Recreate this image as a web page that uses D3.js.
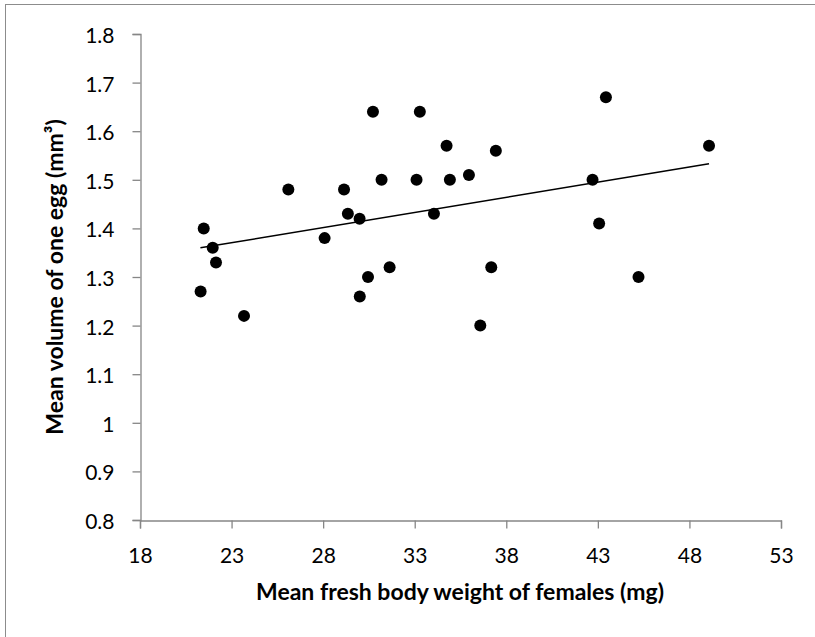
<!DOCTYPE html>
<html>
<head>
<meta charset="utf-8">
<script src="https://cdn.jsdelivr.net/npm/d3@7"></script>
<style>
  html, body { margin: 0; padding: 0; background: #fff; }
  svg { display: block; }
</style>
</head>
<body>
<svg id="chart" width="815" height="637"></svg>
<script>
// Mean fresh body weight of females (mg)
const bodyWeight = [21.31, 21.48, 21.97, 22.15, 23.68, 26.1, 28.08, 29.14, 29.35, 29.99,
  30.0, 30.45, 30.72, 31.19, 31.63, 33.1, 33.28, 34.05, 34.74, 34.92,
  35.96, 36.58, 37.18, 37.43, 42.71, 43.07, 43.44, 45.22, 49.07];
// Mean volume of one egg (mm³)
const eggVolume = [1.27, 1.40, 1.36, 1.33, 1.22, 1.48, 1.38, 1.48, 1.43, 1.42,
  1.26, 1.30, 1.64, 1.50, 1.32, 1.50, 1.64, 1.43, 1.57, 1.50,
  1.51, 1.20, 1.32, 1.56, 1.50, 1.41, 1.67, 1.30, 1.57];
// Tick values
const xTicks = [18, 23, 28, 33, 38, 43, 48, 53];
const yTicks = [0.8, 0.9, 1, 1.1, 1.2, 1.3, 1.4, 1.5, 1.6, 1.7, 1.8];
// Linear trend line: start and end of fitted line
const trendX = [21.3, 49.07];
const trendY = [1.36, 1.533];

(function () {
  const svg = d3.select("#chart");
  const axisColor = "#868686";
  const font = "Lato, 'Open Sans', sans-serif";

  // outer chart frame
  svg.append("rect")
    .attr("x", 5.5).attr("y", 4.5)
    .attr("width", 830).attr("height", 660)
    .attr("fill", "none").attr("stroke", "#8c8c8c").attr("stroke-width", 1);

  const plotLeft = 140, plotRight = 781, plotTop = 34, plotBottom = 520;
  const x = d3.scaleLinear().domain([18, 53]).range([plotLeft, plotRight]);
  const y = d3.scaleLinear().domain([0.8, 1.8]).range([plotBottom, plotTop]);

  // axes
  const xAxis = svg.append("g").attr("transform", `translate(0,${plotBottom + 0.5})`)
    .call(d3.axisBottom(x).tickValues(xTicks).tickSize(8).tickPadding(20).tickFormat(d3.format("d")));
  const yAxis = svg.append("g").attr("transform", `translate(${plotLeft + 0.5},0)`)
    .call(d3.axisLeft(y).tickValues(yTicks).tickSize(8).tickPadding(18).tickFormat(d => String(+d.toFixed(1))));

  [xAxis, yAxis].forEach(g => {
    g.select(".domain").attr("stroke", axisColor).attr("stroke-width", 1.3);
    g.selectAll(".tick line").attr("stroke", axisColor).attr("stroke-width", 1.3);
    g.selectAll(".tick text").attr("fill", "#000").style("font-family", font).style("font-size", "21px");
  });
  yAxis.selectAll(".tick text").attr("dy", "0.4em");

  // trend line
  svg.append("line")
    .attr("x1", x(trendX[0])).attr("y1", y(trendY[0]))
    .attr("x2", x(trendX[1])).attr("y2", y(trendY[1]))
    .attr("stroke", "#000").attr("stroke-width", 1.5);

  // data points
  svg.append("g").selectAll("circle")
    .data(bodyWeight.map((w, i) => [w, eggVolume[i]]))
    .join("circle")
    .attr("cx", d => x(d[0]))
    .attr("cy", d => y(d[1]))
    .attr("r", 6)
    .attr("fill", "#000");

  // axis titles
  svg.append("text")
    .attr("x", 460).attr("y", 600)
    .attr("text-anchor", "middle")
    .style("font-family", font).style("font-weight", "bold").style("font-size", "23px")
    .text("Mean fresh body weight of females (mg)");

  svg.append("text")
    .attr("transform", `translate(62.5,${(plotTop + plotBottom) / 2}) rotate(-90)`)
    .attr("text-anchor", "middle")
    .style("font-family", font).style("font-weight", "bold").style("font-size", "23px")
    .text("Mean volume of one egg (mm³)");
})();
</script>
</body>
</html>
